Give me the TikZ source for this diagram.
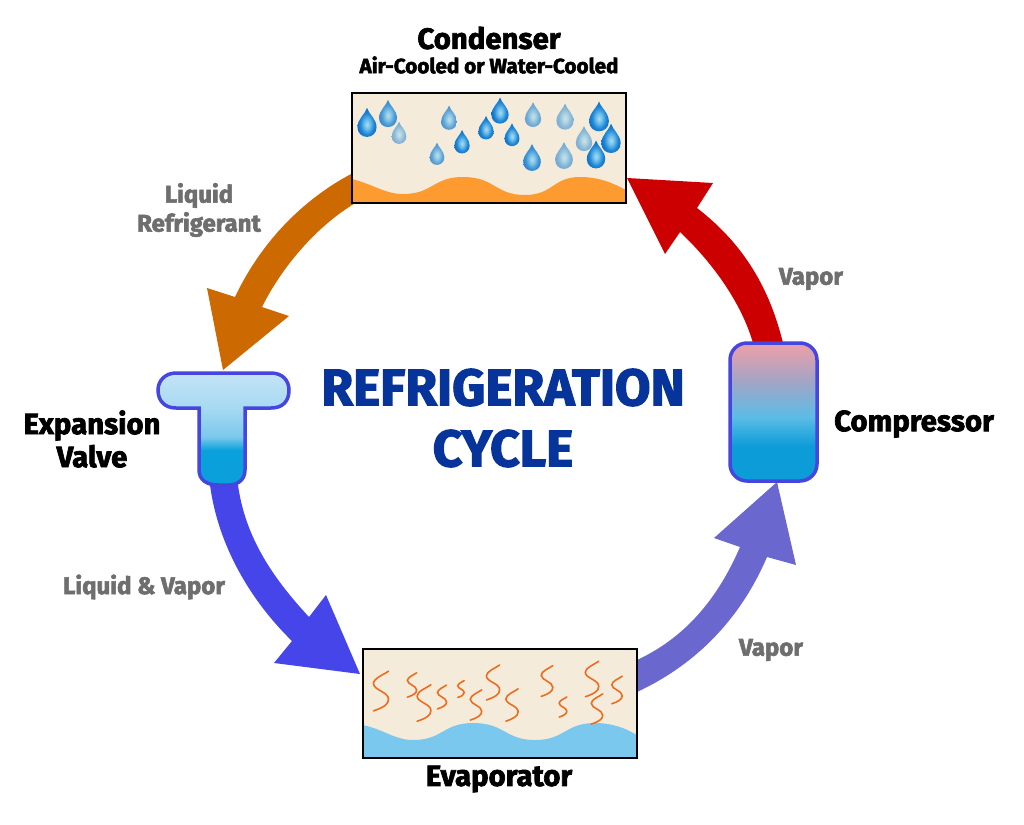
\documentclass[tikz,border=0pt]{standalone}
\usepackage{fontspec}
\setmainfont{Fira Sans}[BoldFeatures={FakeBold=2.4}]
\definecolor{cream}{HTML}{F4EBDA}
\definecolor{orangeW}{HTML}{FD9B30}
\definecolor{blueW}{HTML}{7AC8EE}
\definecolor{orangeA}{HTML}{CC6900}
\definecolor{redA}{HTML}{CC0000}
\definecolor{blueA}{HTML}{4545EA}
\definecolor{purpA}{HTML}{6A68CE}
\definecolor{gLab}{HTML}{6E6E6E}
\definecolor{navy}{HTML}{06349A}
\definecolor{edgeB}{HTML}{4545E0}
\definecolor{squig}{HTML}{EC6D1F}
\definecolor{va}{HTML}{0AA0DC}
\definecolor{vb}{HTML}{7CC8EC}
\definecolor{vm}{HTML}{A8DAF2}
\definecolor{vc}{HTML}{C4E3F6}
\definecolor{ca}{HTML}{0C9CD8}
\definecolor{cb}{HTML}{5ABCE6}
\definecolor{cc}{HTML}{A4A4C4}
\definecolor{cd}{HTML}{E4A0AC}
\definecolor{da}{HTML}{A8DCF4}
\definecolor{db}{HTML}{6DBEEA}
\definecolor{dc}{HTML}{1F86D6}
\definecolor{dd}{HTML}{0F6FC6}
\pgfdeclareverticalshading{valveS}{100bp}{color(0bp)=(va);color(40.5bp)=(va);color(46.5bp)=(vb);color(60bp)=(vm);color(75bp)=(vc);color(100bp)=(vc)}
\pgfdeclareverticalshading{compS}{100bp}{color(0bp)=(ca);color(37.5bp)=(ca);color(48bp)=(cb);color(61.5bp)=(cc);color(73bp)=(cd);color(100bp)=(cd)}
\pgfdeclareradialshading{dropS}{\pgfpoint{0bp}{-4bp}}{color(0bp)=(da);color(8bp)=(db);color(18bp)=(dc);color(26bp)=(dd);color(50bp)=(dd)}
\tikzset{
  x=1pt,y=-1pt,
  box/.style={draw=black,line width=2pt},
  lab/.style={font=\bfseries\fontsize{29.3}{33}\selectfont,align=center,text=black,inner sep=0pt},
  sublab/.style={font=\bfseries\fontsize{20.7}{24}\selectfont,align=center,text=black,inner sep=0pt},
  glab/.style={font=\bfseries\fontsize{24}{29}\selectfont,align=center,text=gLab,inner sep=0pt},
  ttl/.style={font=\bfseries\fontsize{51.5}{61}\selectfont,align=center,text=navy,inner sep=0pt},
  sq/.style={draw=squig,line width=1.6pt,line cap=round},
}
\newcommand{\drp}[4]{\begin{scope}[shift={(#1,#2)},x=#3pt,y=-#3pt]
 \path[shading=dropS,opacity=#4] (0,-1.25) .. controls (0.12,-0.8) and (0.74,-0.4) .. (0.74,0.25) .. controls (0.74,0.72) and (0.38,1) .. (0,1) .. controls (-0.38,1) and (-0.74,0.72) .. (-0.74,0.25) .. controls (-0.74,-0.4) and (-0.12,-0.8) .. (0,-1.25) -- cycle;
 \end{scope}}
\newcommand{\sqg}[3]{\begin{scope}[shift={(#1,#2)},x=#3pt,y=-#3pt]
 \draw[sq] (1,-2.65) .. controls (0.4,-2.2) and (-1,-1.7) .. (-1,-1) .. controls (-1,-0.1) and (1,0.1) .. (1,1.1) .. controls (1,1.8) and (0.3,2.2) .. (-1,2.65);
 \end{scope}}
\begin{document}
\begin{tikzpicture}
\useasboundingbox (0,0) rectangle (1024,824);
\fill[white] (0,0) rectangle (1024,824);

% arrows
\fill[orangeA] (353,173) .. controls (305,198) and (262,240) .. (235,297) -- (207,288) -- (223,370) -- (289,316) -- (262,307) .. controls (283,265) and (318,225) .. (357,202) -- cycle;
\fill[redA] (783,343) .. controls (770,290) and (745,245) .. (697,208) -- (713,183) -- (627,178) -- (665,254) -- (680,232) .. controls (715,265) and (742,305) .. (753,343) -- cycle;
\fill[blueA] (210,485) .. controls (218,545) and (250,600) .. (292,641) -- (274,663) -- (360,674) -- (326,595) -- (309,617) .. controls (270,575) and (245,535) .. (238,485) -- cycle;
\fill[purpA] (637,660) .. controls (680,640) and (715,605) .. (740,547) -- (714,538) -- (777,482) -- (796,565) -- (767,557) .. controls (740,620) and (695,665) .. (637,692) -- cycle;

% condenser
\fill[cream] (352,93) rectangle (626,203);
\fill[orangeW] (352,179) .. controls (375,185) and (385,194) .. (403,194) .. controls (433,194) and (433,177) .. (463,177) .. controls (495,177) and (495,195) .. (525,195) .. controls (553,195) and (553,177) .. (580,177) .. controls (600,177) and (615,184) .. (626,190) -- (626,203) -- (352,203) -- cycle;
\drp{367}{124}{12.9}{1}
\drp{388}{115}{12.1}{.8}
\drp{399}{134}{9.9}{.5}
\drp{449}{119}{10.8}{.7}
\drp{462}{143}{10.4}{1}
\drp{437}{155}{9.9}{.7}
\drp{486}{129}{10.4}{1}
\drp{500}{112}{11.6}{1}
\drp{512}{136}{10.1}{1}
\drp{533}{116}{11}{.6}
\drp{532}{159}{11.9}{.85}
\drp{565}{118}{11.6}{.5}
\drp{564}{157}{11.9}{.55}
\drp{599}{118}{13.3}{1}
\drp{584}{140}{11.1}{.5}
\drp{611}{140}{13}{1}
\drp{596}{156}{12.4}{1}
\node[box,fill=none,minimum width=274pt,minimum height=110pt,inner sep=0pt] (condenser) at (489,148) {};

% evaporator
\fill[cream] (363,649) rectangle (637,758);
\fill[blueW] (363,725) .. controls (385,730) and (395,740) .. (413,740) .. controls (443,740) and (443,723) .. (473,723) .. controls (505,723) and (505,740) .. (535,740) .. controls (565,740) and (565,723) .. (595,723) .. controls (612,723) and (625,728) .. (637,735) -- (637,758) -- (363,758) -- cycle;
\sqg{381}{691}{7.5}
\sqg{412}{685}{4.6}
\sqg{424}{703}{6.9}
\sqg{442}{697}{4.5}
\sqg{461}{689}{3.2}
\sqg{476}{705}{5.7}
\sqg{493}{682.5}{6.6}
\sqg{512}{705}{6.1}
\sqg{547}{681}{5.8}
\sqg{563}{707}{3.8}
\sqg{592}{679}{6.7}
\sqg{597}{709}{5.7}
\sqg{617}{690}{5.2}
\node[box,fill=none,minimum width=274pt,minimum height=109pt,inner sep=0pt] (evaporator) at (500,703.5) {};

% valve
\path[draw=edgeB,line width=3.5pt,shading=valveS]
 (176,373) -- (271,373) .. controls (283,373) and (289,381) .. (289,390) .. controls (289,401) and (283,408) .. (271,408)
 -- (245,408) -- (245,470) .. controls (245,481) and (236,485) .. (229,485) -- (218,485) .. controls (207,485) and (199,480) .. (199,470)
 -- (199,408) -- (176,408) .. controls (165,408) and (158,401) .. (158,390) .. controls (158,381) and (165,373) .. (176,373) -- cycle;

% compressor
\path[draw=edgeB,line width=3.5pt,shading=compS,rounded corners=17pt] (730,343) rectangle (817,481);

% labels
\node[lab] (tCond) at (489,38) {Condenser};
\node[sublab] (tSub) at (489,65) {Air-Cooled or Water-Cooled};
\node[lab] (tExp) at (92,439) {Expansion\\Valve};
\node[lab] (tComp) at (914,424) {Compressor};
\node[lab] (tEvap) at (499,779) {Evaporator};
\node[glab] (g1) at (199,210) {Liquid\\Refrigerant};
\node[glab] (g2) at (811,279) {Vapor};
\node[glab] (g3) at (144,587) {Liquid \& Vapor};
\node[glab] (g4) at (771,650) {Vapor};
\node[ttl] (title) at (503,418) {REFRIGERATION\\CYCLE};
\end{tikzpicture}
\end{document}
